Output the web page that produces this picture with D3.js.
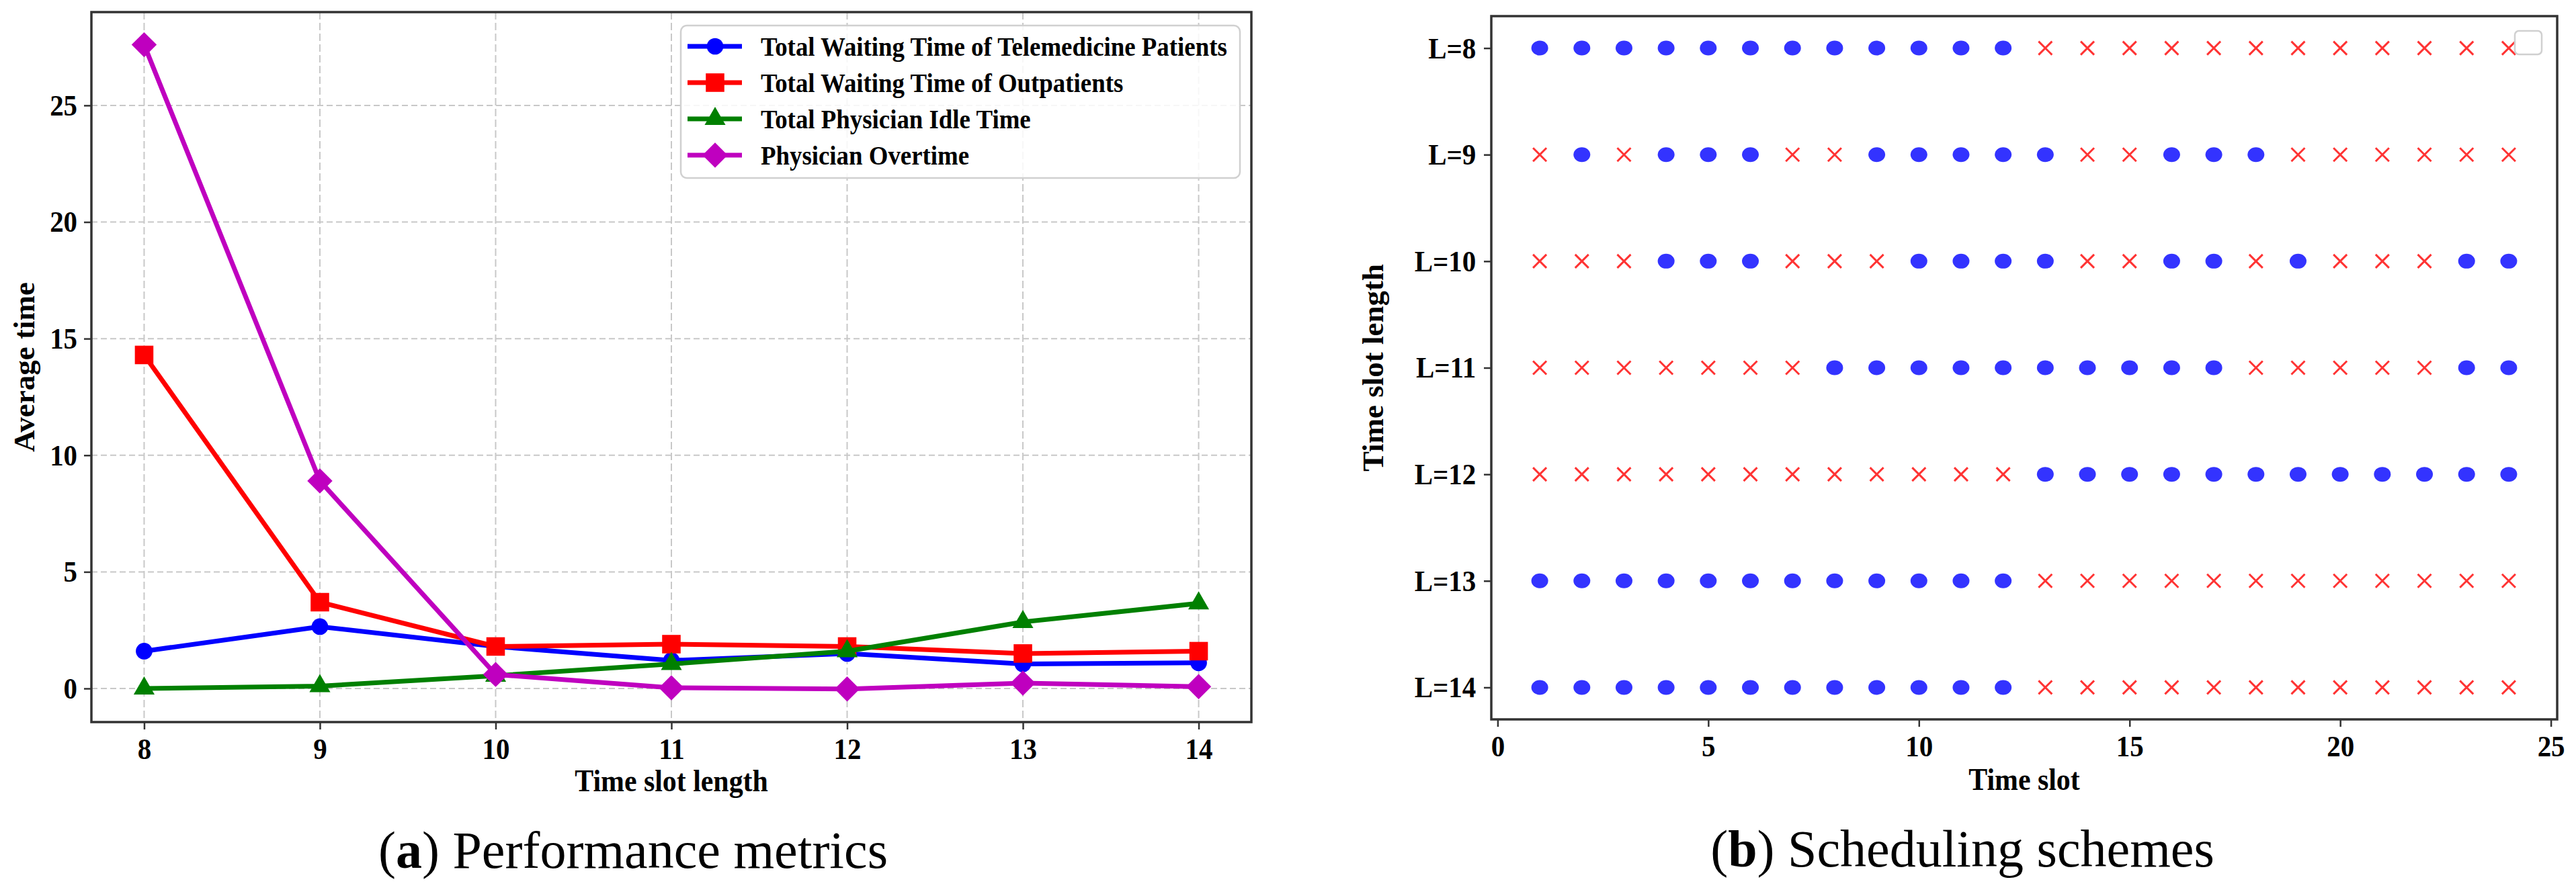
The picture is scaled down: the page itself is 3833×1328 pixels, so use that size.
<!DOCTYPE html>
<html><head><meta charset="utf-8">
<script src="https://cdn.jsdelivr.net/npm/d3@7/dist/d3.min.js"></script>
<style>body{margin:0;background:#fff}</style>
</head><body>
<svg id="chart" width="3833" height="1328"></svg>
<script>
// ---------- Data: panel (a) ----------
const slotLengths = [8, 9, 10, 11, 12, 13, 14];
const telemedicineWait = [1.6, 2.65, 1.8, 1.2, 1.5, 1.05, 1.1];
const outpatientWait = [14.3, 3.7, 1.8, 1.9, 1.8, 1.5, 1.6];
const physicianIdle = [0.0, 0.1, 0.55, 1.05, 1.6, 2.85, 3.65];
const physicianOvertime = [27.6, 8.9, 0.6, 0.03, -0.02, 0.23, 0.08];
const seriesNames = ["Total Waiting Time of Telemedicine Patients", "Total Waiting Time of Outpatients", "Total Physician Idle Time", "Physician Overtime"];
const seriesColors = ["#0000ff", "#ff0000", "#008000", "#bf00bf"];
const seriesMarkers = ["circle", "square", "triangle", "diamond"];
const yTicksA = [0, 5, 10, 15, 20, 25];

// ---------- Data: panel (b) ----------
const timeSlots = [1,2,3,4,5,6,7,8,9,10,11,12,13,14,15,16,17,18,19,20,21,22,23,24];
const rowLabels = ["L=8", "L=9", "L=10", "L=11", "L=12", "L=13", "L=14"];
// 1 = telemedicine slot (blue dot), 0 = outpatient slot (red x)
const schemeL8  = [1,1,1,1,1,1,1,1,1,1,1,1,0,0,0,0,0,0,0,0,0,0,0,0];
const schemeL9  = [0,1,0,1,1,1,0,0,1,1,1,1,1,0,0,1,1,1,0,0,0,0,0,0];
const schemeL10 = [0,0,0,1,1,1,0,0,0,1,1,1,1,0,0,1,1,0,1,0,0,0,1,1];
const schemeL11 = [0,0,0,0,0,0,0,1,1,1,1,1,1,1,1,1,1,0,0,0,0,0,1,1];
const schemeL12 = [0,0,0,0,0,0,0,0,0,0,0,0,1,1,1,1,1,1,1,1,1,1,1,1];
const schemeL13 = [1,1,1,1,1,1,1,1,1,1,1,1,0,0,0,0,0,0,0,0,0,0,0,0];
const schemeL14 = [1,1,1,1,1,1,1,1,1,1,1,1,0,0,0,0,0,0,0,0,0,0,0,0];
const xTicksB = [0, 5, 10, 15, 20, 25];

// ---------- Setup ----------
const FONT = "'Liberation Serif', 'Times New Roman', serif";
const SX = 0.91; // horizontal condensation of text, as in the reference
const svg = d3.select("#chart");
svg.append("rect").attr("width", 3833).attr("height", 1328).attr("fill", "#fff");

function condensedText(g, x, y, txt, size, weight, anchor) {
  return g.append("text")
    .attr("transform", `translate(${x},${y}) scale(${SX},1)`)
    .attr("text-anchor", anchor || "middle")
    .attr("font-family", FONT).attr("font-size", size).attr("font-weight", weight || "bold")
    .attr("fill", "#000").text(txt);
}
function styleAxis(g) {
  g.select(".domain").remove();
  g.selectAll(".tick line").attr("stroke", "#333").attr("stroke-width", 2.5);
  g.selectAll(".tick text").attr("font-family", FONT).attr("font-size", 45)
    .attr("font-weight", "bold").attr("fill", "#000")
    .attr("transform", `scale(${SX},1)`);
}
function markerPath(type) {
  if (type === "circle") return d3.symbol(d3.symbolCircle, 480)();
  if (type === "square") return d3.symbol(d3.symbolSquare, 760)();
  if (type === "triangle") return d3.symbol(d3.symbolTriangle, 420)();
  return d3.symbol(d3.symbolSquare, 700)();
}
function markerTransform(type, x, y) {
  return type === "diamond" ? `translate(${x},${y}) rotate(45)` : `translate(${x},${y})`;
}

// ---------- Panel (a) ----------
const A = { left: 136, right: 1862, top: 18, bottom: 1075 };
const xA = d3.scaleLinear().domain([7.7, 14.3]).range([A.left, A.right]);
const yA = d3.scaleLinear().domain([-1.44, 29.0]).range([A.bottom, A.top]);
const gA = svg.append("g");

// grid
gA.append("g").selectAll("line").data(slotLengths).join("line")
  .attr("x1", d => xA(d)).attr("x2", d => xA(d)).attr("y1", A.top).attr("y2", A.bottom)
  .attr("stroke", "#c8c8c8").attr("stroke-width", 2).attr("stroke-dasharray", "11,5");
gA.append("g").selectAll("line").data(yTicksA).join("line")
  .attr("x1", A.left).attr("x2", A.right).attr("y1", d => yA(d)).attr("y2", d => yA(d))
  .attr("stroke", "#c8c8c8").attr("stroke-width", 2).attr("stroke-dasharray", "9,5");

// axes
const axAx = gA.append("g").attr("transform", `translate(0,${A.bottom})`)
  .call(d3.axisBottom(xA).tickValues(slotLengths).tickSize(11).tickPadding(12).tickFormat(d3.format("d")));
styleAxis(axAx);
const axAy = gA.append("g").attr("transform", `translate(${A.left},0)`)
  .call(d3.axisLeft(yA).tickValues(yTicksA).tickSize(11).tickPadding(12).tickFormat(d3.format("d")));
styleAxis(axAy);

// lines
const seriesA = [telemedicineWait, outpatientWait, physicianIdle, physicianOvertime];
const lineA = d3.line().x((d, i) => xA(slotLengths[i])).y(d => yA(d));
seriesA.forEach((vals, s) => {
  const gs = gA.append("g");
  gs.append("path").datum(vals).attr("d", lineA).attr("fill", "none")
    .attr("stroke", seriesColors[s]).attr("stroke-width", 7).attr("stroke-linejoin", "round");
  gs.selectAll("path.m").data(vals).join("path").attr("class", "m")
    .attr("d", markerPath(seriesMarkers[s]))
    .attr("transform", (d, i) => markerTransform(seriesMarkers[s], xA(slotLengths[i]), yA(d)))
    .attr("fill", seriesColors[s]);
});

// spines
gA.append("rect").attr("x", A.left).attr("y", A.top).attr("width", A.right - A.left).attr("height", A.bottom - A.top)
  .attr("fill", "none").attr("stroke", "#333").attr("stroke-width", 3.5);

// legend
const legA = gA.append("g").attr("transform", "translate(1013,38)");
legA.append("rect").attr("width", 832).attr("height", 227).attr("rx", 9)
  .attr("fill", "#fff").attr("fill-opacity", 0.85).attr("stroke", "#d0d0d0").attr("stroke-width", 2.5);
seriesNames.forEach((name, s) => {
  const yy = 31 + s * 54;
  legA.append("line").attr("x1", 10).attr("x2", 91).attr("y1", yy).attr("y2", yy)
    .attr("stroke", seriesColors[s]).attr("stroke-width", 7);
  legA.append("path").attr("d", markerPath(seriesMarkers[s]))
    .attr("transform", markerTransform(seriesMarkers[s], 51, yy)).attr("fill", seriesColors[s]);
  condensedText(legA, 119, yy + 14, name, 40.5, "bold", "start");
});

// axis labels
condensedText(gA, (A.left + A.right) / 2, 1178, "Time slot length", 46, "bold");
gA.append("text").attr("transform", `translate(51,${(A.top + A.bottom) / 2}) rotate(-90)`)
  .attr("text-anchor", "middle").attr("font-family", FONT).attr("font-size", 45).attr("font-weight", "bold")
  .text("Average time");

// caption
const capA = gA.append("text").attr("x", 942).attr("y", 1292).attr("text-anchor", "middle")
  .attr("font-family", FONT).attr("font-size", 78);
capA.append("tspan").text("(");
capA.append("tspan").attr("font-weight", "bold").text("a");
capA.append("tspan").text(") Performance metrics");

// ---------- Panel (b) ----------
const B = { left: 2219, right: 3805, top: 24, bottom: 1071 };
const xB = d3.scaleLinear().domain([-0.15, 25.15]).range([B.left, B.right]);
const yB = d3.scalePoint().domain(rowLabels).range([B.top, B.bottom]).padding(0.3);
const gB = svg.append("g");

const axBx = gB.append("g").attr("transform", `translate(0,${B.bottom})`)
  .call(d3.axisBottom(xB).tickValues(xTicksB).tickSize(11).tickPadding(12).tickFormat(d3.format("d")));
styleAxis(axBx);
const axBy = gB.append("g").attr("transform", `translate(${B.left},0)`)
  .call(d3.axisLeft(yB).tickSize(11).tickPadding(14));
styleAxis(axBy);

const schemes = [schemeL8, schemeL9, schemeL10, schemeL11, schemeL12, schemeL13, schemeL14];
schemes.forEach((row, r) => {
  const cy = yB(rowLabels[r]);
  const gr = gB.append("g");
  const pts = row.map((v, i) => ({ v, t: timeSlots[i] }));
  gr.selectAll("ellipse").data(pts.filter(p => p.v === 1)).join("ellipse")
    .attr("cx", p => xB(p.t)).attr("cy", cy).attr("rx", 12.5).attr("ry", 11)
    .attr("fill", "#0000ff").attr("fill-opacity", 0.8);
  gr.selectAll("path").data(pts.filter(p => p.v === 0)).join("path")
    .attr("d", p => { const x = xB(p.t); return `M${x - 10},${cy - 10}L${x + 10},${cy + 10}M${x - 10},${cy + 10}L${x + 10},${cy - 10}`; })
    .attr("stroke", "#ff0000").attr("stroke-opacity", 0.8).attr("stroke-width", 3).attr("fill", "none");
});

gB.append("rect").attr("x", B.left).attr("y", B.top).attr("width", B.right - B.left).attr("height", B.bottom - B.top)
  .attr("fill", "none").attr("stroke", "#333").attr("stroke-width", 3.5);

// empty legend box
gB.append("rect").attr("x", 3742).attr("y", 46).attr("width", 40).attr("height", 35).attr("rx", 6)
  .attr("fill", "#fff").attr("fill-opacity", 0.8).attr("stroke", "#d0d0d0").attr("stroke-width", 2.5);

condensedText(gB, (B.left + B.right) / 2, 1176, "Time slot", 46, "bold");
gB.append("text").attr("transform", `translate(2058,${(B.top + B.bottom) / 2}) rotate(-90)`)
  .attr("text-anchor", "middle").attr("font-family", FONT).attr("font-size", 45).attr("font-weight", "bold")
  .text("Time slot length");

const capB = gB.append("text").attr("x", 2920).attr("y", 1290).attr("text-anchor", "middle")
  .attr("font-family", FONT).attr("font-size", 78);
capB.append("tspan").text("(");
capB.append("tspan").attr("font-weight", "bold").text("b");
capB.append("tspan").text(") Scheduling schemes");
</script>
</body></html>
